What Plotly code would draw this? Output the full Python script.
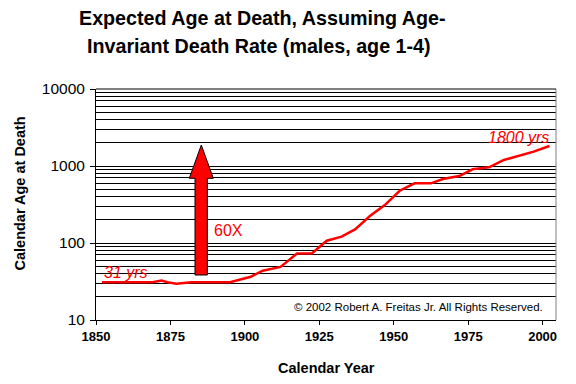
import plotly.graph_objects as go

years = [1852, 1869, 1872, 1874, 1877, 1882, 1895, 1898, 1902, 1906, 1912, 1917.5,
         1922.5, 1927.5, 1932.5, 1937, 1942, 1947, 1952, 1957, 1962.5, 1966.5,
         1972, 1976.5, 1982, 1987, 1992, 1997, 2002.3]
ages = [31, 31, 32.5, 31, 29.6, 31, 31, 33, 36.5, 43.7, 49, 73,
        73, 107, 121, 150, 224, 311, 477, 596, 596, 678,
        741, 906, 961, 1197, 1349, 1535, 1820]
x_ticks = [1850, 1875, 1900, 1925, 1950, 1975, 2000]
y_ticks = [10, 100, 1000, 10000]

FONT = "Liberation Sans, Arial, sans-serif"

fig = go.Figure()
fig.add_trace(go.Scatter(x=years, y=ages, mode="lines",
                         line=dict(color="#FF0000", width=2.5),
                         showlegend=False, hoverinfo="skip"))

# plot area geometry (pixels) for paper conversions
L, R, T, B = 96, 556, 89, 320
W, H = R - L, B - T
def px(x):
    return (x - L) / W
def py(y):
    return (B - y) / H

# block arrow path (annotation graphic)
sx0, sx1, hx0, hx1, tx = px(195), px(207.3), px(189.3), px(213.3), px(201.3)
yb, yh, yt = py(275), py(178.3), py(145)
path = (f"M {sx0},{yb} L {sx1},{yb} L {sx1},{yh} L {hx1},{yh} L {tx},{yt} "
        f"L {hx0},{yh} L {sx0},{yh} Z")

shapes = [
    dict(type="path", xref="paper", yref="paper", path=path,
         fillcolor="#FF0000", line=dict(color="black", width=1)),
    dict(type="line", xref="paper", yref="paper", x0=1, x1=1, y0=0, y1=1,
         line=dict(color="#808080", width=1)),
    dict(type="line", xref="paper", yref="paper", x0=0, x1=1, y0=1, y1=1,
         line=dict(color="black", width=1)),
]

annotations = [
    dict(text="<b>Expected Age at Death, Assuming Age-</b>", x=px(262), y=py(17.5),
         font=dict(size=19.7, color="black", family=FONT), showarrow=False,
         xref="paper", yref="paper", xanchor="center", yanchor="middle"),
    dict(text="<b>Invariant Death Rate (males, age 1-4)</b>", x=px(259), y=py(46),
         font=dict(size=19.7, color="black", family=FONT), showarrow=False,
         xref="paper", yref="paper", xanchor="center", yanchor="middle"),
    dict(text="<b>Calendar Age at Death</b>", x=px(19.5), y=py(194), textangle=-90,
         font=dict(size=14.5, color="black", family=FONT), showarrow=False,
         xref="paper", yref="paper", xanchor="center", yanchor="middle"),
    dict(text="<b>Calendar Year</b>", x=px(326), y=py(368),
         font=dict(size=14.5, color="black", family=FONT), showarrow=False,
         xref="paper", yref="paper", xanchor="center", yanchor="middle"),
    dict(text="© 2002 Robert A. Freitas Jr. All Rights Reserved.", x=px(545), y=py(306.7),
         font=dict(size=11.5, color="black", family=FONT), showarrow=False,
         xref="paper", yref="paper", xanchor="right", yanchor="middle"),
    dict(text="<i>31 yrs</i>", x=px(102), y=py(272.7),
         font=dict(size=16, color="#FF0000", family=FONT), showarrow=False,
         xref="paper", yref="paper", xanchor="left", yanchor="middle"),
    dict(text="<i>1800 yrs</i>", x=px(551), y=py(137.3),
         font=dict(size=16, color="#FF0000", family=FONT), showarrow=False,
         xref="paper", yref="paper", xanchor="right", yanchor="middle"),
    dict(text="60X", x=px(212), y=py(230),
         font=dict(size=16, color="#FF0000", family=FONT), showarrow=False,
         xref="paper", yref="paper", xanchor="left", yanchor="middle"),
]

fig.update_layout(
    width=576, height=384,
    margin=dict(l=L, r=576 - R, t=T, b=384 - B, pad=0),
    paper_bgcolor="white", plot_bgcolor="white",
    font=dict(family=FONT, color="black"),
    shapes=shapes, annotations=annotations,
    xaxis=dict(range=[1850, 2004.5], tickvals=x_ticks,
               ticktext=[f"<b>{v}</b>" for v in x_ticks],
               showgrid=False, zeroline=False, showline=True, linecolor="black",
               linewidth=1, ticks="outside", ticklen=4, tickcolor="black",
               tickfont=dict(size=13, family=FONT, color="black")),
    yaxis=dict(type="log", range=[1, 4], tickvals=y_ticks,
               ticktext=[str(v) for v in y_ticks],
               showgrid=True, gridcolor="black", gridwidth=1,
               zeroline=False, showline=True, linecolor="black", linewidth=1,
               ticks="outside", ticklen=5, tickcolor="black", ticklabelstandoff=2,
               tickfont=dict(size=15.5, family=FONT, color="black"),
               minor=dict(dtick="D1", showgrid=True, gridcolor="black",
                          gridwidth=1, ticks="")),
)

fig.write_html("out.html", config={"displayModeBar": False},
               post_script="document.body.style.margin='0';document.body.style.overflow='hidden';")
